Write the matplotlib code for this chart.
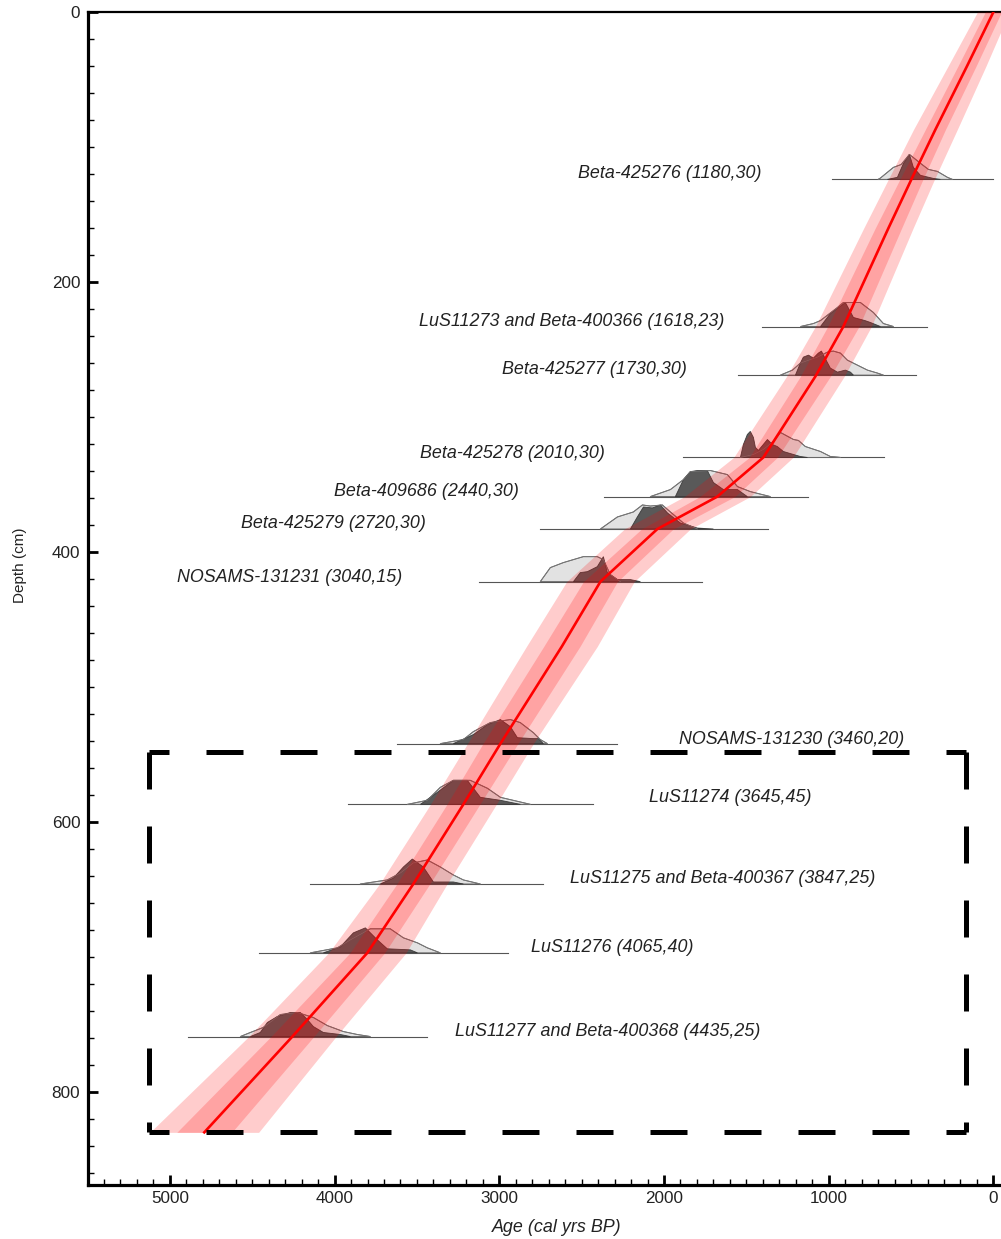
import matplotlib
matplotlib.use("Agg")
import matplotlib.pyplot as plt
from matplotlib.ticker import MultipleLocator

plt.rcParams['font.family'] = ['Liberation Sans', 'DejaVu Sans']

# ---------------- age-depth model ----------------
model_depth = [0, 40, 87, 124, 160, 233, 270, 330, 359, 383, 422, 470, 542, 587, 646, 697, 759, 830]
model_median = [0, 160, 352, 498, 637, 911, 1081, 1397, 1676, 2040, 2386, 2620, 2993, 3218, 3522, 3801, 4256, 4791]
model_old95 = [97, 275, 485, 638, 787, 1081, 1256, 1577, 1876, 2240, 2591, 2835, 3193, 3418, 3727, 4036, 4521, 5121]
model_young95 = [-97, 45, 219, 358, 487, 741, 906, 1217, 1476, 1840, 2181, 2405, 2793, 3018, 3317, 3566, 3991, 4461]
model_old68 = [49, 215, 413, 568, 717, 1006, 1172, 1482, 1782, 2136, 2489, 2730, 3099, 3318, 3622, 3906, 4386, 4958]
model_young68 = [-49, 105, 291, 428, 557, 816, 990, 1312, 1570, 1944, 2283, 2510, 2887, 3118, 3422, 3696, 4126, 4624]

# ---------------- dates ----------------
date_labels = [
    "Beta-425276 (1180,30)",
    "LuS11273 and Beta-400366 (1618,23)",
    "Beta-425277 (1730,30)",
    "Beta-425278 (2010,30)",
    "Beta-409686 (2440,30)",
    "Beta-425279 (2720,30)",
    "NOSAMS-131231 (3040,15)",
    "NOSAMS-131230 (3460,20)",
    "LuS11274 (3645,45)",
    "LuS11275 and Beta-400367 (3847,25)",
    "LuS11276 (4065,40)",
    "LuS11277 and Beta-400368 (4435,25)",
]
date_depth = [124, 233, 269, 330, 359, 383, 422, 542, 587, 646, 697, 759]
baseline_old = [978, 1402, 1548, 1882, 2362, 2751, 3121, 3619, 3916, 4147, 4457, 4888]
baseline_young = [0, 401, 468, 662, 1123, 1366, 1767, 2283, 2429, 2732, 2945, 3437]

# calibrated (light) distributions: ages and heights
cal_age = [
    [700, 686, 607, 560, 510, 443, 395, 340, 279, 249],
    [1171, 1093, 1050, 947, 911, 808, 729, 668, 607],
    [1293, 1220, 1172, 1069, 1008, 972, 929, 887, 826, 765, 704, 668],
    [1536, 1457, 1397, 1336, 1293, 1214, 1184, 1142, 1050, 990, 929],
    [2083, 1961, 1882, 1840, 1718, 1615, 1554, 1476, 1354],
    [2386, 2283, 2186, 2131, 2083, 2010, 1961, 1882, 1797],
    [2751, 2690, 2611, 2490, 2405, 2368, 2326, 2283, 2265],
    [3358, 3218, 3157, 3054, 2933, 2873, 2793, 2751, 2708],
    [3558, 3437, 3358, 3279, 3176, 3072, 2993, 2811],
    [3844, 3680, 3601, 3522, 3437, 3358, 3279, 3218, 3115],
    [4147, 3983, 3904, 3783, 3662, 3582, 3497, 3437, 3358],
    [4572, 4511, 4433, 4329, 4226, 4129, 4044, 3947, 3862, 3783],
]
cal_height = [
    [0, 1, 8.9, 11, 18.5, 11.9, 7.4, 5.9, 1.5, 0],
    [0, 2.2, 4.4, 14.1, 17.8, 17.8, 10.4, 2.2, 0],
    [0, 3.7, 8.9, 13.3, 17.0, 17.8, 16.3, 11.1, 7.4, 3.7, 1.5, 0],
    [0, 2.2, 5.9, 11.9, 18.5, 13.3, 12.6, 8.1, 4.4, 0.7, 0],
    [0, 5.2, 12.6, 18.5, 19.3, 16.3, 7.4, 3.7, 0],
    [0, 8.9, 12.6, 17.8, 17.0, 17.8, 12.6, 4.4, 0],
    [0, 10.4, 14.1, 18.5, 18.5, 16.3, 5.2, 1.5, 0],
    [0, 3.0, 8.9, 15.6, 17.8, 15.6, 8.1, 3.0, 0],
    [0, 3.0, 12.6, 17.8, 17.8, 11.9, 5.2, 0],
    [0, 3.0, 8.1, 15.6, 17.8, 12.6, 6.7, 3.0, 0],
    [0, 3.7, 9.6, 17.8, 17.8, 11.1, 7.4, 3.7, 0],
    [0, 3.0, 6.7, 16.3, 17.8, 14.1, 8.1, 3.7, 1.5, 0],
]

# modelled (dark) distributions: ages and heights
post_age = [
    [644, 583, 546, 510, 486, 443, 364, 322],
    [1050, 990, 899, 850, 780, 747, 686],
    [1202, 1172, 1154, 1123, 1093, 1063, 1044, 1032, 990, 947, 899, 868, 850],
    [1536, 1518, 1494, 1476, 1457, 1445, 1427, 1397, 1372, 1342, 1312, 1275, 1214, 1172, 1129],
    [1931, 1882, 1840, 1797, 1737, 1700, 1639, 1554, 1494],
    [2204, 2162, 2125, 2071, 2022, 1979, 1900, 1797, 1700],
    [2550, 2508, 2465, 2405, 2368, 2344, 2283, 2204, 2143],
    [3279, 3157, 3072, 2993, 2933, 2890, 2793, 2763, 2732],
    [3479, 3376, 3279, 3194, 3115, 2993, 2872],
    [3722, 3643, 3582, 3528, 3461, 3400, 3279, 3218],
    [4068, 3965, 3886, 3813, 3740, 3680, 3540, 3497],
    [4511, 4451, 4408, 4348, 4269, 4208, 4165, 4129, 4068, 3965, 3904],
]
post_height = [
    [0, 1.5, 11.9, 18.5, 8.9, 3.0, 0.7, 0],
    [0, 9.6, 17.8, 6.7, 4.4, 3.0, 0],
    [0, 8.9, 13.3, 14.8, 12.6, 16.3, 17.8, 14.8, 5.2, 2.2, 3.7, 2.2, 0],
    [0, 9.6, 17.0, 19.3, 14.8, 7.4, 5.2, 9.6, 13.3, 9.6, 8.1, 4.4, 2.2, 0.7, 0],
    [0, 12.6, 18.5, 19.3, 19.3, 10.4, 5.2, 5.2, 0],
    [0, 8.9, 16.3, 15.6, 17.8, 11.9, 4.4, 0.7, 0],
    [0, 6.7, 7.4, 11.1, 18.5, 6.7, 1.5, 1.5, 0],
    [0, 6.7, 14.1, 17.8, 12.6, 4.4, 3.7, 3.7, 0],
    [0, 8.9, 17.8, 17.8, 5.2, 3.0, 0],
    [0, 4.4, 12.6, 18.5, 12.6, 1.5, 1.5, 0],
    [0, 4.4, 14.8, 18.5, 9.6, 3.0, 2.2, 0],
    [0, 3.0, 10.4, 14.8, 17.8, 17.8, 12.6, 7.4, 3.0, 1.5, 0],
]

# label anchor positions (age of left edge, depth of centre)
label_age = [2520, 3485, 2981, 3479, 4001, 4566, 4955, 1907, 2089, 2568, 2805, 3267]
label_depth = [120, 229, 265, 327, 355, 379, 419, 539, 582, 642, 693, 755]

# dashed box (age / depth)
box_old, box_young = 5125, 164
box_top, box_bottom = 548, 830

# ---------------- figure ----------------
W, H = 1001, 1239
fig = plt.figure(figsize=(W / 100, H / 100), dpi=100)
ax = fig.add_axes([87.5 / W, 1 - 1185 / H, 1 - 87.5 / W, (1185 - 12) / H])

# densities
for i in range(len(date_labels)):
    d = date_depth[i]
    ax.plot([baseline_old[i], baseline_young[i]], [d, d], color='#555555', lw=0.8, zorder=2)
    ca = cal_age[i]
    ch = [d - h for h in cal_height[i]]
    ax.fill(ca, ch, facecolor='#e2e2e2', edgecolor='#666666', lw=0.7, zorder=2.1)
    pa = post_age[i]
    ph = [d - h for h in post_height[i]]
    ax.fill(pa, ph, facecolor='#4a4a4a', edgecolor='#333333', lw=0.6, alpha=0.9, zorder=2.2)
    ax.plot(ca, ch, color='#777777', lw=0.6, zorder=2.3)
    ax.text(label_age[i], label_depth[i], date_labels[i], ha='left', va='center',
            fontsize=12.9, style='italic', color='#222222', zorder=6)

# model bands
ax.fill_betweenx(model_depth, model_old95, model_young95, color='#ff0000', alpha=0.2, lw=0, zorder=3)
ax.fill_betweenx(model_depth, model_old68, model_young68, color='#ff0000', alpha=0.2, lw=0, zorder=3.1)
ax.plot(model_median, model_depth, color='#ff0000', lw=1.9, zorder=4)

# dashed box, each side drawn from a corner
box_lw = 3.6
ax.plot([box_old, box_young], [box_top, box_top], color='black', lw=box_lw,
        linestyle=(3.4, (7.4, 7.4)), zorder=5, dash_capstyle='butt')
ax.plot([box_old, box_young], [box_bottom, box_bottom], color='black', lw=box_lw,
        linestyle=(3.4, (7.4, 7.4)), zorder=5, dash_capstyle='butt')
ax.plot([box_old, box_old], [box_top, box_bottom], color='black', lw=box_lw,
        linestyle=(0, (7.4, 7.4)), zorder=5, dash_capstyle='butt')
ax.plot([box_young, box_young], [box_top, box_bottom], color='black', lw=box_lw,
        linestyle=(0, (7.4, 7.4)), zorder=5, dash_capstyle='butt')

# axes
ax.set_xlim(5500, -46)
ax.set_ylim(869, 0)
ax.xaxis.set_major_locator(MultipleLocator(1000))
ax.xaxis.set_minor_locator(MultipleLocator(100))
ax.yaxis.set_major_locator(MultipleLocator(200))
ax.yaxis.set_minor_locator(MultipleLocator(20))
ax.tick_params(which='both', direction='in', top=False, right=False, colors='black',
               labelcolor='#222222', labelsize=12.3)
ax.tick_params(which='major', length=7.5, width=2.0)
ax.tick_params(which='minor', length=4.5, width=1.0)
ax.tick_params(axis='y', which='major', pad=5.2)
ax.tick_params(axis='x', which='major', pad=4.0)
ax.spines['right'].set_visible(False)
ax.spines['left'].set_linewidth(2.3)
ax.spines['bottom'].set_linewidth(2.3)
ax.spines['top'].set_linewidth(1.6)

fig.text(20 / W, 1 - 565 / H, "Depth (cm)", rotation=90, ha='center', va='center',
         fontsize=11, color='#222222')
fig.text(557 / W, 1 - 1228 / H, "Age (cal yrs BP)", ha='center', va='center',
         fontsize=12.9, style='italic', color='#222222')

fig.savefig("out.png", dpi=100)
